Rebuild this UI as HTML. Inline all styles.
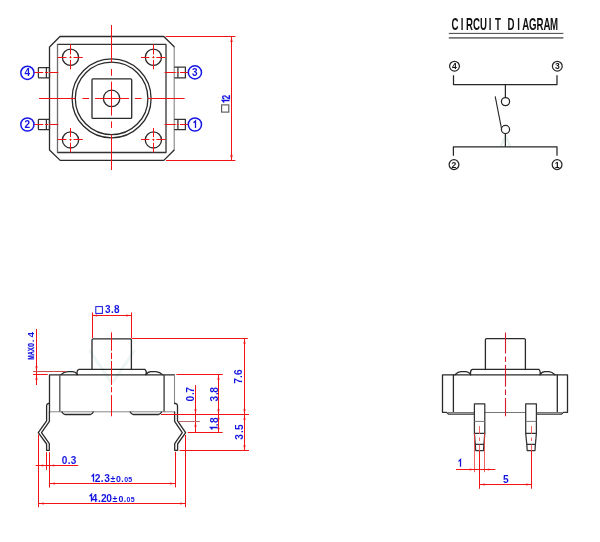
<!DOCTYPE html>
<html>
<head>
<meta charset="utf-8">
<title>Tact switch drawing</title>
<style>
html,body{margin:0;padding:0;background:#fff;}
body{width:600px;height:542px;overflow:hidden;font-family:"Liberation Sans",sans-serif;}
svg{display:block;will-change:transform;}
.k{stroke:#2a2a2a;stroke-width:1.3;fill:none;stroke-linejoin:round;stroke-linecap:round;}
.k2{stroke:#323232;stroke-width:1.25;fill:none;stroke-linejoin:round;}
.g{stroke:#777;stroke-width:1;fill:none;}
.r{stroke:#f21414;stroke-width:1;fill:none;}
.rd{stroke:#c84a4a;stroke-width:1;fill:none;}
.b{stroke:#1616e6;stroke-width:1.3;fill:none;}
.bt{fill:#1414e0;font-family:"Liberation Sans",sans-serif;font-weight:bold;}
.kt{fill:#111;font-family:"Liberation Sans",sans-serif;}
.ah{fill:#f21414;stroke:none;}
</style>
</head>
<body>
<svg width="600" height="542" viewBox="0 0 600 542">
<rect width="600" height="542" fill="#fff"/>
<defs>
  <path id="one" d="M-2 -5.3L0 -7.2V0" fill="none" stroke="#1414e0" stroke-width="1.3" stroke-linejoin="miter"/>
</defs>

<g id="wm" fill="none" stroke="#eef5f6" stroke-width="3" stroke-linecap="round">
  <path d="M90 351L111 382M134 351L113 382"/>
  <path d="M505.5 136L501 146M505.5 136L510 146" stroke-width="2.5" stroke="#e6f0ee"/>
</g>
<!-- ================= TOP VIEW ================= -->
<g id="topview">
  <path class="k" d="M174.2 46.7L163.8 36.5H60L49.5 47V150L60.2 160.4H163.8L174.2 150"/>
  <path d="M174.2 46.7V150" stroke="#858585" stroke-width="1.1" fill="none"/>
  <path class="k" d="M57.5 44.4H166V152.5H57.5" style="stroke:#333"/>
  <path d="M57.5 44.4V152.5" stroke="#6e6e6e" stroke-width="1.3" fill="none"/>
  <circle class="k" cx="111.6" cy="98.4" r="39.5"/>
  <circle class="k" cx="111.6" cy="98.4" r="36.3"/>
  <rect class="k" x="92" y="78.8" width="39.7" height="39.6" rx="1"/>
  <circle class="k" cx="111.6" cy="98.4" r="8.2"/>
  <circle class="k" cx="70.5" cy="57.2" r="8.1"/>
  <circle class="k" cx="153.4" cy="57.2" r="8.1"/>
  <circle class="k" cx="70.5" cy="139.9" r="8.1"/>
  <circle class="k" cx="153.4" cy="139.9" r="8.1"/>
  <!-- pins -->
  <g class="k2">
    <rect x="38.4" y="67.5" width="11.1" height="10.4" rx=".6"/><path d="M46.4 67.5V77.9"/>
    <rect x="38.4" y="119.3" width="11.1" height="10.4" rx=".6"/><path d="M46.4 119.3V129.7"/>
    <path d="M174.2 67.2H185.4V77.8H174.2" fill="none"/><path d="M177.9 67.2V77.8"/>
    <path d="M174.2 119.3H185.4V129.7H174.2" fill="none"/><path d="M177.9 119.3V129.7"/>
  </g>
  <!-- red centre lines -->
  <g class="r">
    <path d="M111.5 25V62.5M111.5 69V75.8M111.5 81.6V115.6M111.5 121.4V128M111.5 134.7V170"/>
    <path d="M39 98.5H75.6M82.4 98.5H89.2M95 98.5H129M134.8 98.5H141.6M148 98.5H184.6"/>
    <path d="M57.6 57.5H66.4M69.5 57.5H71.5M73.5 57.5H82.8M70.5 44.4V54.4M70.5 56.2V58.2M70.5 60V69.3"/>
    <path d="M141 57.5H149.3M152.4 57.5H154.4M156.4 57.5H165.4M153.5 44.4V54.4M153.5 56.2V58.2M153.5 60V69.3"/>
    <path d="M57.6 139.5H66.4M69.5 139.5H71.5M73.5 139.5H82.8M70.5 128V137.1M70.5 138.9V140.9M70.5 142.7V152.5"/>
    <path d="M141 139.5H149.3M152.4 139.5H154.4M156.4 139.5H165.4M153.5 128V137.1M153.5 138.9V140.9M153.5 142.7V152.5"/>
    <!-- pin lines -->
    <path d="M34.2 72.5H43.3M45 72.5H48M48.9 72.5H58.3"/>
    <path d="M34.2 124.5H43.3M45 124.5H48M48.9 124.5H58.3"/>
    <path d="M164.6 72.5H175.8M176.7 72.5H178.8M180 72.5H188.6"/>
    <path d="M164.6 124.5H175.8M176.7 124.5H178.8M180 124.5H188.6"/>
    <!-- dimension 12 -->
    <path d="M165.6 36.5H235.4M166 160.5H235.4M231.5 36.5V160.5"/>
  </g>
  <path class="ah" d="M231.5 36.6l-1.15 5.5h2.3zM231.5 160.4l-1.15 -5.5h2.3z"/>
  <!-- numbered circles -->
  <g class="b" style="stroke-width:1.5">
    <circle cx="27.4" cy="72.8" r="6.6"/><circle cx="27.4" cy="124.5" r="6.6"/>
    <circle cx="194.9" cy="72.4" r="6.6"/><circle cx="194.9" cy="124.5" r="6.6"/>
  </g>
  <g class="bt" font-size="10" text-anchor="middle">
    <text x="27.4" y="76.4">4</text><text x="27.4" y="128.1">2</text>
    <text x="194.9" y="76">3</text>
  </g>
  <text class="bt" font-size="10" stroke="#1414e0" stroke-width=".2" transform="translate(229.5 97.2) rotate(-90)" text-anchor="middle" textLength="4.5" lengthAdjust="spacingAndGlyphs">2</text>
  <use href="#one" transform="translate(229.5 100.5) rotate(-90)"/>
  <use href="#one" transform="translate(195.5 128.1)"/>
  <rect x="221.6" y="104.9" width="7.2" height="7.2" fill="none" stroke="#555" stroke-width="1.1"/>
</g>

<!-- ================= CIRCUIT DIAGRAM ================= -->
<g id="circuit">
  <g class="kt" font-size="15.6" text-anchor="middle" style="font-weight:bold"><text transform="translate(455 29.9) scale(0.62 1)">C</text><text transform="translate(462 29.9) scale(0.62 1)">I</text><text transform="translate(469.5 29.9) scale(0.62 1)">R</text><text transform="translate(476.4 29.9) scale(0.62 1)">C</text><text transform="translate(483.5 29.9) scale(0.62 1)">U</text><text transform="translate(490.2 29.9) scale(0.62 1)">I</text><text transform="translate(497.9 29.9) scale(0.62 1)">T</text><text transform="translate(511.1 29.9) scale(0.62 1)">D</text><text transform="translate(518.7 29.9) scale(0.62 1)">I</text><text transform="translate(525.7 29.9) scale(0.62 1)">A</text><text transform="translate(532.8 29.9) scale(0.62 1)">G</text><text transform="translate(540 29.9) scale(0.62 1)">R</text><text transform="translate(546.9 29.9) scale(0.62 1)">A</text><text transform="translate(554 29.9) scale(0.62 1)">M</text></g>
  <path d="M448.8 33.4H563.4" stroke="#444" stroke-width="1" fill="none"/>
  <path d="M448.8 37.8H563.4" stroke="#777" stroke-width="1.7" fill="none"/>
  <g class="k" style="stroke-width:1.25;stroke:#262626;stroke-linecap:butt">
    <path d="M453.5 75.2V84.5H557V75.2"/>
    <path d="M505.4 84.5V97.4"/>
    <circle cx="505.5" cy="101.6" r="4.1"/>
    <circle cx="505.5" cy="129.5" r="4.1"/>
    <path d="M495.2 96.4L501.5 128.6" style="stroke-width:1.1"/>
    <path d="M505.4 133.7V146.8"/>
    <path d="M453.4 155.7V146.8H557V155.7"/>
    <circle cx="454.5" cy="66.2" r="4.9"/>
    <circle cx="557.3" cy="66.2" r="4.9"/>
    <circle cx="454" cy="164.6" r="4.9"/>
    <circle cx="557.1" cy="164.6" r="4.9"/>
  </g>
  <g class="kt" font-size="8.6" text-anchor="middle" style="font-weight:bold">
    <text x="454.5" y="69.3">4</text><text x="557.3" y="69.3">3</text>
    <text x="454" y="167.7">2</text><text x="557.1" y="167.7">1</text>
  </g>
</g>

<!-- ================= FRONT VIEW ================= -->
<g id="front">
  <!-- stem -->
  <path class="k" d="M92 369.4V340Q92 338.9 93.1 338.9H130.3Q131.4 338.9 131.4 340V369.4"/>
  <!-- flange -->
  <path class="k" d="M146 374.6Q147.2 372 145 369.4H79Q76.5 370 77.2 374.6"/>
  <!-- bumps -->
  <path class="k" d="M61 374.6Q64 371.6 68 371.6H73Q76 372 77.2 374.6"/>
  <path class="k" d="M146 374.6Q148 371.6 151 371.6H156Q160 372 162.5 374.6"/>
  <!-- body -->
  <path class="k" d="M49.5 412.2V374.8H174.5"/>
  <path d="M174.5 374.8V404" stroke="#8a8a8a" stroke-width="1.1" fill="none"/>
  <path d="M59.8 374.8V412" stroke="#5a5a5a" stroke-width="1.4" fill="none"/>
  <path d="M164.1 374.8V412" stroke="#444" stroke-width="1.4" fill="none"/>
  <path d="M49.5 411.8H174.5" stroke="#7a7a7a" stroke-width=".9" fill="none"/>
  <!-- feet -->
  <path class="k" d="M61.9 412Q63.2 414.5 65 414.5H90.4Q92 414.5 93.3 412"/>
  <path class="k" d="M130.2 412Q131.5 414.5 133.2 414.5H158.6Q160.3 414.5 161.6 412"/>
  <!-- left leg -->
  <path class="k" d="M49.4 403.5H48.4Q46.6 403.8 46.6 405.8V420.8L38.3 432.7L46.6 444V450.3H49.3V443.6L41.5 432.7L49.4 421.4V412"/>
  <!-- right leg -->
  <path class="k" d="M174.6 403.5H175.6Q177.5 403.8 177.5 405.8V420.8L185.6 432.7L177.6 444V450.3H174.7V443.6L182.3 432.7L174.6 421.4V412"/>
  <!-- red -->
  <g class="r">
    <path d="M111.5 332.4V350.8M111.5 352.7V359.1M111.5 361V385M111.5 386.8V392.3M111.5 395V416.3"/>
    <path d="M92.5 312.5V338M131.5 312.5V338M92 315.5H131.4"/>
    <path d="M36.5 329V385M33.1 374.5H47.7"/>
    <path d="M131.6 338.5H247.8M244.5 338.9V450.2"/>
    <path d="M176.4 374.5H222.7M218.5 374.9V432.7M195.5 385.1V432.7"/>
    <path d="M161 414.5H249M187.8 432.5H222.7M179.5 450.5H249"/>
    <path d="M38.5 434.5V507.2M46.5 452.2V469.8M49.5 452.2V487.6M175.5 451.8V487.4M185.5 435V507.2"/>
    <path d="M35.6 465.5H78.2M49.2 483.5H175.4M38.5 503.5H185.4"/>
  </g>
  <path class="rd" d="M33.1 371.5H66"/>
  <path class="rd" d="M178.8 421.5H199.9" style="stroke:#b86a6a"/>
  <path class="ah" d="M92.2 315.5l5 -1.1v2.2zM131.3 315.5l-5 -1.1v2.2zM36.5 371.2l-1.1 -5h2.2zM36.5 374.8l-1.1 5h2.2zM244.5 338.8l-1.1 5h2.2zM244.5 414.2l-1.1 -5h2.2zM244.5 414.8l-1.1 5h2.2zM244.5 450.2l-1.1 -5h2.2zM218.5 374.8l-1.1 5h2.2zM218.5 414.2l-1.1 -5h2.2zM218.5 414.8l-1.1 4.5h2.2zM218.5 432.3l-1.1 -4.5h2.2zM195.5 414.2l-1.1 -5h2.2zM195.5 421.8l-1.1 5h2.2zM46.2 465.5l-4.5 -1.1v2.2zM49.8 465.5l4.5 -1.1v2.2zM49.8 483.5l5 -1.1v2.2zM175.2 483.5l-5 -1.1v2.2zM38.8 503.5l5 -1.1v2.2zM185.2 503.5l-5 -1.1v2.2z"/>
  <!-- blue text -->
  <rect x="95.8" y="306.6" width="6.6" height="6.8" fill="none" stroke="#1414e0" stroke-width="1"/>
  <g class="bt">
    <text transform="rotate(-90)" x="-398.70 -393.70 -389.80" y="194.4" font-size="10.2" text-anchor="middle">0.7</text>
    <text transform="rotate(-90)" x="-398.70 -393.50 -390.00" y="217.7" font-size="10.2" text-anchor="middle">3.8</text>
    <text transform="rotate(-90)" x="-381.00 -376.50 -372.20" y="242.1" font-size="10.2" text-anchor="middle">7.6</text>
    <text transform="rotate(-90)" x="-424.80 -420.10" y="217.7" font-size="10.2" text-anchor="middle">.8</text>
    <use href="#one" transform="translate(217.7 427.5) rotate(-90)"/>
    <text transform="rotate(-90)" x="-436.90 -431.50 -427.10" y="242.8" font-size="10.2" text-anchor="middle">3.5</text>
    <text transform="translate(34.4 357.4) rotate(-90)" font-size="9.6" text-anchor="middle" textLength="4.0" lengthAdjust="spacingAndGlyphs" stroke="#1414e0" stroke-width=".35">M</text>
    <text transform="translate(34.4 353.2) rotate(-90)" font-size="9.6" text-anchor="middle" textLength="4.0" lengthAdjust="spacingAndGlyphs" stroke="#1414e0" stroke-width=".35">A</text>
    <text transform="translate(34.4 349.2) rotate(-90)" font-size="9.6" text-anchor="middle" textLength="4.0" lengthAdjust="spacingAndGlyphs" stroke="#1414e0" stroke-width=".35">X</text>
    <text transform="translate(34.4 344.9) rotate(-90)" font-size="9.6" text-anchor="middle" textLength="4.0" lengthAdjust="spacingAndGlyphs" stroke="#1414e0" stroke-width=".35">0</text>
    <text transform="rotate(-90)" x="-340.80 -334.80" y="34.4" font-size="9.8" text-anchor="middle">.4</text>
    <text x="97.50 102.10 107.00" y="481.8" font-size="10.2" text-anchor="middle">2.3</text>
    <use href="#one" transform="translate(93.5 481.8)"/>
    <text x="113.00 118.50 122.40" y="481.8" font-size="8.8" text-anchor="middle">±0.</text>
    <text x="126.30 130.10" y="481.8" font-size="7" text-anchor="middle">05</text>
    <text x="94.70 99.40 103.80 109.20" y="501.5" font-size="10.2" text-anchor="middle">4.20</text>
    <use href="#one" transform="translate(91.5 501.5)"/>
    <text x="115.00 120.90 125.00" y="501.5" font-size="8.8" text-anchor="middle">±0.</text>
    <text x="128.50 132.70" y="501.5" font-size="7" text-anchor="middle">05</text>
    <text x="107.8 112.4 116.7" y="313.3" font-size="10" text-anchor="middle">3.8</text>
    <text x="64.5 69.2 73.6" y="463.6" font-size="10" text-anchor="middle">0.3</text>
  </g>
</g>

<!-- ================= SIDE VIEW ================= -->
<g id="side">
  <path class="k" d="M485.4 369.4V339.8Q485.4 338.6 486.6 338.6H524.2Q525.4 338.6 525.4 339.8V369.4"/>
  <path class="k" d="M540 374.7Q541 372 539 369.4H472.5Q470 370 470.6 374.7"/>
  <path class="k" d="M455 374.7Q458 371.7 461 371.7H466Q469 372 470.6 374.7"/>
  <path class="k" d="M540 374.7Q542 371.7 545 371.7H549Q552 372 555 374.7"/>
  <path class="k" d="M442.5 412.4V374.8H567.5V412.4"/>
  <path class="k" d="M453.4 374.8V412.4M557.3 374.8V412.4"/>
  <path class="k2" d="M442.5 412.4H446.6L448.6 414.2H474.3M567.5 412.4H563.4L561.4 414.2H536.5"/>
  <path class="g" d="M448 412.5H474.3M484.8 412.5H525.6M536.5 412.5H562"/>
  <!-- pins -->
  <g class="k2">
    <path d="M474.4 433.4V403.8H484.8V433.4"/>
    <path d="M474.4 433.4H484.8L483.9 444.4H475.3Z"/>
    <path d="M475.3 444.4L475.7 450.5H483.5L483.9 444.4"/>
    <path d="M525.7 433.4V403.8H536.4V433.4"/>
    <path d="M525.7 433.4H536.4L535.4 444.4H526.8Z"/>
    <path d="M526.8 444.4L527.2 450.5H535L535.4 444.4"/>
  </g>
  <path class="g" d="M474.4 421.4H484.8M525.7 421.4H536.4"/>
  <g class="r">
    <path d="M505.5 332.4V353.6M505.5 356.4V361.9M505.5 364.7V386.8M505.5 389.6V395.1M505.5 397.9V416.3" style="stroke:#d31a2c;stroke-width:1.1"/>
    <path d="M474.5 433V472.2M484.5 433V472.2" style="stroke-width:.8;stroke:#f03a3a"/>
    <path d="M479.5 426V434M479.5 437.5V441M479.5 444.5V451" style="stroke-width:.9;stroke:#f25555"/>
    <path d="M479.5 451V488.8"/>
    <path d="M531.5 426V434M531.5 437.5V441M531.5 444.5V451" style="stroke-width:.9;stroke:#f25555"/>
    <path d="M531.5 451V488.8"/>
    <path d="M456 469.5H495.4M479.4 484.5H531.4"/>
  </g>
  <path class="ah" d="M474.2 469.5l-4.5 -1.1v2.2zM484.8 469.5l4.5 -1.1v2.2zM479.8 484.5l5 -1.1v2.2zM531.2 484.5l-5 -1.1v2.2z"/>
  <g class="bt" font-size="10.2" text-anchor="middle">
    <use href="#one" transform="translate(460.5 466.7)"/>
    <text x="505.8" y="483">5</text>
  </g>
</g>
</svg>
</body>
</html>
